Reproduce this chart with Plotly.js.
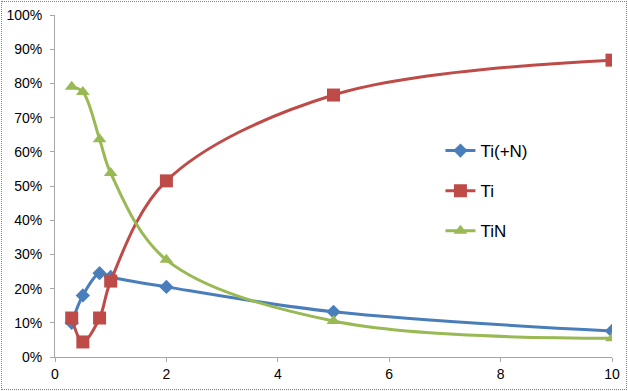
<!DOCTYPE html>
<html><head><meta charset="utf-8">
<script src="https://cdn.plot.ly/plotly-3.0.1.min.js"></script>
<style>
html,body{margin:0;padding:0;background:#fff;}
#wrap{position:relative;width:628px;height:391px;}
#chart{position:absolute;left:0;top:0;width:628px;height:391px;}
#border{position:absolute;left:1px;top:1px;width:626px;height:389px;box-sizing:border-box;border:1px dotted #7f7f7f;pointer-events:none;}
</style></head>
<body>
<div id="wrap"><div id="chart"></div><div id="border"></div></div>
<script>
const xValues = [0.3, 0.5, 0.8, 1.0, 2, 5, 10];
const tiPlusN = [0.10, 0.18, 0.245, 0.234, 0.205, 0.132, 0.076];
const ti      = [0.114, 0.044, 0.114, 0.222, 0.515, 0.766, 0.868];
const tiN     = [0.79, 0.775, 0.637, 0.538, 0.284, 0.105, 0.055];
const seriesNames = ["Ti(+N)", "Ti", "TiN"];
const xTicks = [0, 2, 4, 6, 8, 10];

const colors = ["#4A7EBB", "#BE4B48", "#98B954"];
const symbols = ["diamond", "square", "triangle-up"];
const sizes = [11, 13, 12];
const ys = [tiPlusN, ti, tiN];

const traces = ys.map((y, i) => ({
  x: xValues, y: y, name: seriesNames[i], type: "scatter", mode: "lines+markers",
  line: {color: colors[i], width: 3, shape: "spline", smoothing: 1},
  marker: {color: colors[i], symbol: symbols[i], size: sizes[i], line: {width: 0}},
  legendgroup: "g" + i
}));

const layout = {
  width: 628, height: 391,
  margin: {l: 55, r: 16, t: 15, b: 34},
  paper_bgcolor: "#fff", plot_bgcolor: "#fff",
  font: {family: "Liberation Sans, Arial, sans-serif", size: 14, color: "#000"},
  xaxis: {range: [0, 10], tickvals: xTicks, ticks: "outside", ticklen: 4, tickcolor: "#a6a6a6",
          showline: true, linecolor: "#a6a6a6", linewidth: 1, showgrid: false, zeroline: false,
          fixedrange: true},
  yaxis: {range: [0, 1], dtick: 0.1, tickformat: ".0%", ticks: "outside", ticklen: 4, tickcolor: "#a6a6a6",
          showline: true, linecolor: "#a6a6a6", linewidth: 1, showgrid: false, zeroline: false,
          ticklabelstandoff: 5, fixedrange: true},
  showlegend: true,
  legend: {x: 0.692, y: 0.655, xanchor: "left", yanchor: "top", bgcolor: "rgba(0,0,0,0)",
           font: {size: 17, family: "Liberation Sans, Arial, sans-serif"}, traceorder: "grouped",
           tracegroupgap: 15, itemwidth: 30}
};

Plotly.newPlot("chart", traces, layout, {displayModeBar: false, staticPlot: true});
</script>
</body></html>
